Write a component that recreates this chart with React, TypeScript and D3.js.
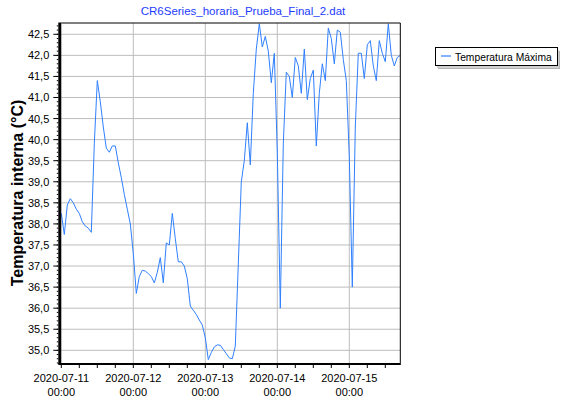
import React from "react";
import * as d3 from "d3";

const title = "CR6Series_horaria_Prueba_Final_2.dat";
const yLabel = "Temperatura interna (°C)";
const seriesName = "Temperatura Máxima";
const startTime = new Date(2020, 6, 11, 0, 0);
const endTime = new Date(2020, 6, 15, 17, 0);
const yTicks = [35.0, 35.5, 36.0, 36.5, 37.0, 37.5, 38.0, 38.5, 39.0, 39.5, 40.0, 40.5, 41.0, 41.5, 42.0, 42.5];
const dayTicks = [
  new Date(2020, 6, 11), new Date(2020, 6, 12), new Date(2020, 6, 13),
  new Date(2020, 6, 14), new Date(2020, 6, 15),
];
// hourly values starting 2020-07-11 00:00
const tempMax = [
  38.25, 37.75, 38.45, 38.6, 38.5, 38.35, 38.25, 38.05, 37.95, 37.9,
  37.8, 39.9, 41.4, 40.9, 40.3, 39.8, 39.7, 39.85, 39.85, 39.45,
  39.1, 38.7, 38.35, 38.0, 37.3, 36.35, 36.75, 36.9, 36.88, 36.82,
  36.75, 36.6, 36.85, 37.2, 36.6, 37.55, 37.5, 38.25, 37.65, 37.1,
  37.1, 37.0, 36.7, 36.05, 35.95, 35.85, 35.72, 35.6, 35.3, 34.78,
  34.95, 35.08, 35.13, 35.12, 35.02, 34.92, 34.82, 34.8, 35.1, 37.05,
  39.0, 39.5, 40.4, 39.4, 41.1, 42.15, 42.75, 42.2, 42.45, 42.1,
  41.35, 42.05, 39.7, 36.0, 39.9, 41.6, 41.5, 41.0, 41.95, 41.75,
  41.1, 42.15, 40.95, 41.45, 41.65, 39.85, 41.1, 41.8, 41.4, 42.65,
  42.4, 41.8, 42.6, 42.55, 41.9, 41.4, 39.6, 36.5, 40.3, 42.05,
  42.05, 41.45, 42.25, 42.35, 41.75, 41.4, 42.35, 42.05, 41.85, 42.75,
  42.0, 41.75, 41.95, 42.0,
];
const times = tempMax.map((_, i) => d3.timeHour.offset(startTime, i));

const W = 566, H = 400;
const L = 61.3, R = 400.3, T = 23, B = 363;
const FONT = "'Liberation Sans', Arial, sans-serif";

export default function App() {
  const x = d3.scaleTime().domain([startTime, endTime]).range([L, R]);
  const y = d3.scaleLinear().domain([34.699, 42.768]).range([B, T]);
  const line = d3.line<number>().x((_, i) => x(times[i])).y((d) => y(d));
  const minorY = d3.range(347, 428).map((v) => v / 10);
  const minorX = d3.timeHour.every(6)!.range(startTime, d3.timeHour.offset(endTime, 1));
  const fmtD = d3.timeFormat("%Y-%m-%d");
  const fmtT = d3.timeFormat("%H:%M");
  return (
    <svg width={W} height={H} style={{ position: "absolute", left: 0, top: 0, background: "#fff" }} fontFamily={FONT}>
      <rect x={0} y={0} width={W} height={H} fill="#fff" />
      <text x={243} y={15} fontSize={11.5} fill="#1e3cff" textAnchor="middle">{title}</text>
      {/* grid */}
      {yTicks.map((t) => (
        <line key={"gy" + t} x1={L} x2={R} y1={y(t)} y2={y(t)} stroke="#bdbdbd" strokeWidth={1} />
      ))}
      {dayTicks.slice(1).map((d, i) => (
        <line key={"gx" + i} x1={x(d)} x2={x(d)} y1={T} y2={B} stroke="#bdbdbd" strokeWidth={1} />
      ))}
      {/* data */}
      <path d={line(tempMax) || ""} fill="none" stroke="#2f80ff" strokeWidth={1} />
      {/* frame */}
      <line x1={L} x2={R} y1={T} y2={T} stroke="#000" strokeWidth={1} />
      <line x1={R} x2={R} y1={T} y2={B} stroke="#000" strokeWidth={1} />
      <line x1={L - 1.5} x2={L - 1.5} y1={T - 0.5} y2={B + 1} stroke="#000" strokeWidth={3} />
      <line x1={L - 3} x2={R + 0.5} y1={B + 1} y2={B + 1} stroke="#000" strokeWidth={2} />
      {/* y ticks */}
      {minorY.map((v) => (
        <line key={"my" + v} x1={L - 4.5} x2={L - 3} y1={y(v)} y2={y(v)} stroke="#000" strokeWidth={1} />
      ))}
      {yTicks.map((t) => (
        <g key={"ty" + t}>
          <line x1={L - 8} x2={L - 3} y1={y(t)} y2={y(t)} stroke="#000" strokeWidth={1} />
          <text x={L - 12} y={y(t) + 4} fontSize={11} textAnchor="end" fill="#000">
            {d3.format(".1f")(t).replace(".", ",")}
          </text>
        </g>
      ))}
      {/* x ticks */}
      {minorX.map((d, i) => (
        <line key={"mx" + i} x1={x(d)} x2={x(d)} y1={B + 2} y2={B + 5} stroke="#000" strokeWidth={1} />
      ))}
      {dayTicks.map((d, i) => (
        <text key={"tx" + i} x={x(d)} fontSize={11} textAnchor="middle" fill="#000">
          <tspan x={x(d)} y={382}>{fmtD(d)}</tspan>
          <tspan x={x(d)} y={396}>{fmtT(d)}</tspan>
        </text>
      ))}
      <text transform="translate(23,193) rotate(-90)" fontSize={16} fontWeight="bold" textAnchor="middle" fill="#000">
        {yLabel}
      </text>
      {/* legend */}
      <rect x={438} y={51} width={122} height={18} fill="#b5b5b5" />
      <rect x={437} y={50} width={122} height={18} fill="#d0d0d0" />
      <rect x={435.5} y={47.5} width={122} height={18} fill="#fff" stroke="#000" strokeWidth={1} />
      <line x1={441} x2={451} y1={56} y2={56} stroke="#2f80ff" strokeWidth={1.2} />
      <text x={455} y={60.5} fontSize={10.3} fill="#000">{seriesName}</text>
    </svg>
  );
}
